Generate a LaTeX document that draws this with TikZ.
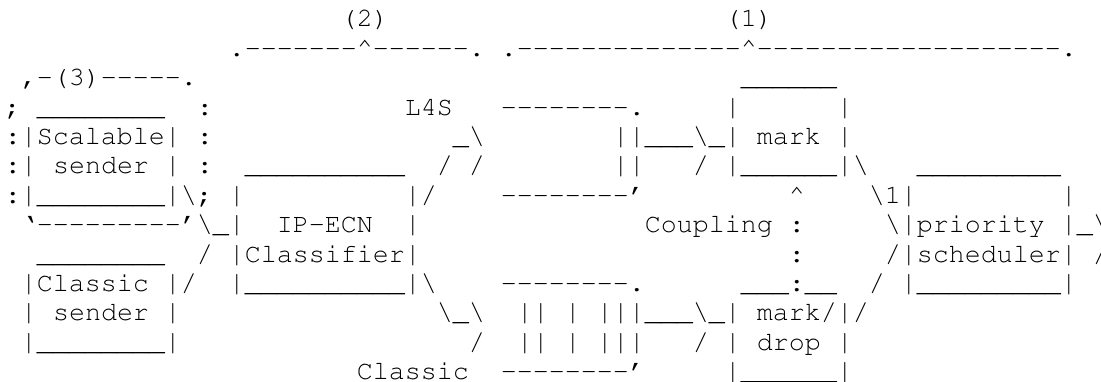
\documentclass[tikz,border=0pt]{standalone}
\usepackage[T1]{fontenc}
\usepackage{courier}
\usepackage{graphicx}

% one character cell of the monospaced grid
\newlength\cw
\setlength\cw{12pt}
\newcommand\gap[1]{\hspace*{#1\cw}}
\newcommand\bsl{\textbackslash}
\newcommand\caret{\textasciicircum}
\newcommand\vb{\scalebox{1}[1.06]{|}}
\newcommand\unders[1]{\foreach\k in {1,...,#1}{\textunderscore}}
\newcommand\dashes[1]{\foreach\k in {1,...,#1}{-}}

\begin{document}
\begin{tikzpicture}[
  x=12pt,y=-22.05pt,
  txt/.style={anchor=base west,inner sep=0pt,outer sep=0pt,
    font=\fontsize{20}{24}\selectfont\ttfamily},
]
\useasboundingbox (0,0) rectangle (68.8125,12.993);
\fill[white] (0,0) rectangle (68.8125,12.993);
\clip (0,0) rectangle (68.8125,12.993);

% braces (1), (2), (3)
\node[txt] (r1) at (0.3125,0.918) {\gap{21}(2)\gap{21}(1)};
\node[txt] (r2) at (0.3125,1.918) {\gap{14}.\dashes{7}\caret\dashes{6}.\gap{1}.\dashes{14}\caret\dashes{19}.};
\node[txt] (r3) at (0.3125,2.918) {\gap{1},-(3)\dashes{5}.\gap{34}\unders{6}};
% senders, classifier, queues, mark boxes, scheduler
\node[txt] (r4) at (0.3125,3.918) {;\gap{1}\unders{8}\gap{2}:\gap{12}L4S\gap{3}\dashes{8}.\gap{5}\vb\gap{6}\vb};
\node[txt] (r5) at (0.3125,4.918) {:\vb Scalable\vb\gap{1}:\gap{15}\textunderscore\bsl\gap{8}\vb\vb\unders{3}\bsl\textunderscore\vb\gap{1}mark\gap{1}\vb};
\node[txt] (r6) at (0.3125,5.918) {:\vb\gap{1}sender\gap{1}\vb\gap{1}:\gap{2}\unders{10}\gap{2}/\gap{1}/\gap{8}\vb\vb\gap{3}/\gap{1}\vb\unders{6}\vb\bsl\gap{3}\unders{9}};
\node[txt] (r7) at (0.3125,6.918) {:\vb\unders{8}\vb\bsl;\gap{1}\vb\gap{10}\vb/\gap{4}\dashes{8}'\gap{9}\caret\gap{4}\bsl 1\vb\gap{9}\vb};
\node[txt] (r8) at (0.3125,7.918) {\gap{1}`\dashes{9}'\bsl\textunderscore\vb\gap{2}IP-ECN\gap{2}\vb\gap{14}Coupling\gap{1}:\gap{5}\bsl\vb priority\gap{1}\vb\textunderscore\bsl};
\node[txt] (r9) at (0.3125,8.918) {\gap{2}\unders{8}\gap{2}/\gap{1}\vb Classifier\vb\gap{23}:\gap{5}/\vb scheduler\vb\gap{1}/};
\node[txt] (r10) at (0.3125,9.918) {\gap{1}\vb Classic\gap{1}\vb/\gap{2}\vb\unders{10}\vb\bsl\gap{4}\dashes{8}.\gap{6}\unders{3}:\unders{2}\gap{2}/\gap{1}\vb\unders{9}\vb};
\node[txt] (r11) at (0.3125,10.918) {\gap{1}\vb\gap{1}sender\gap{1}\vb\gap{16}\bsl\textunderscore\bsl\gap{2}\vb\vb\gap{1}\vb\gap{1}\vb\vb\vb\unders{3}\bsl\textunderscore\vb\gap{1}mark/\vb/};
\node[txt] (r12) at (0.3125,11.918) {\gap{1}\vb\unders{8}\vb\gap{18}/\gap{2}\vb\vb\gap{1}\vb\gap{1}\vb\vb\vb\gap{3}/\gap{1}\vb\gap{1}drop\gap{1}\vb};
\node[txt] (r13) at (0.3125,12.918) {\gap{22}Classic\gap{2}\dashes{8}'\gap{5}\vb\unders{6}\vb};
\end{tikzpicture}
\end{document}
